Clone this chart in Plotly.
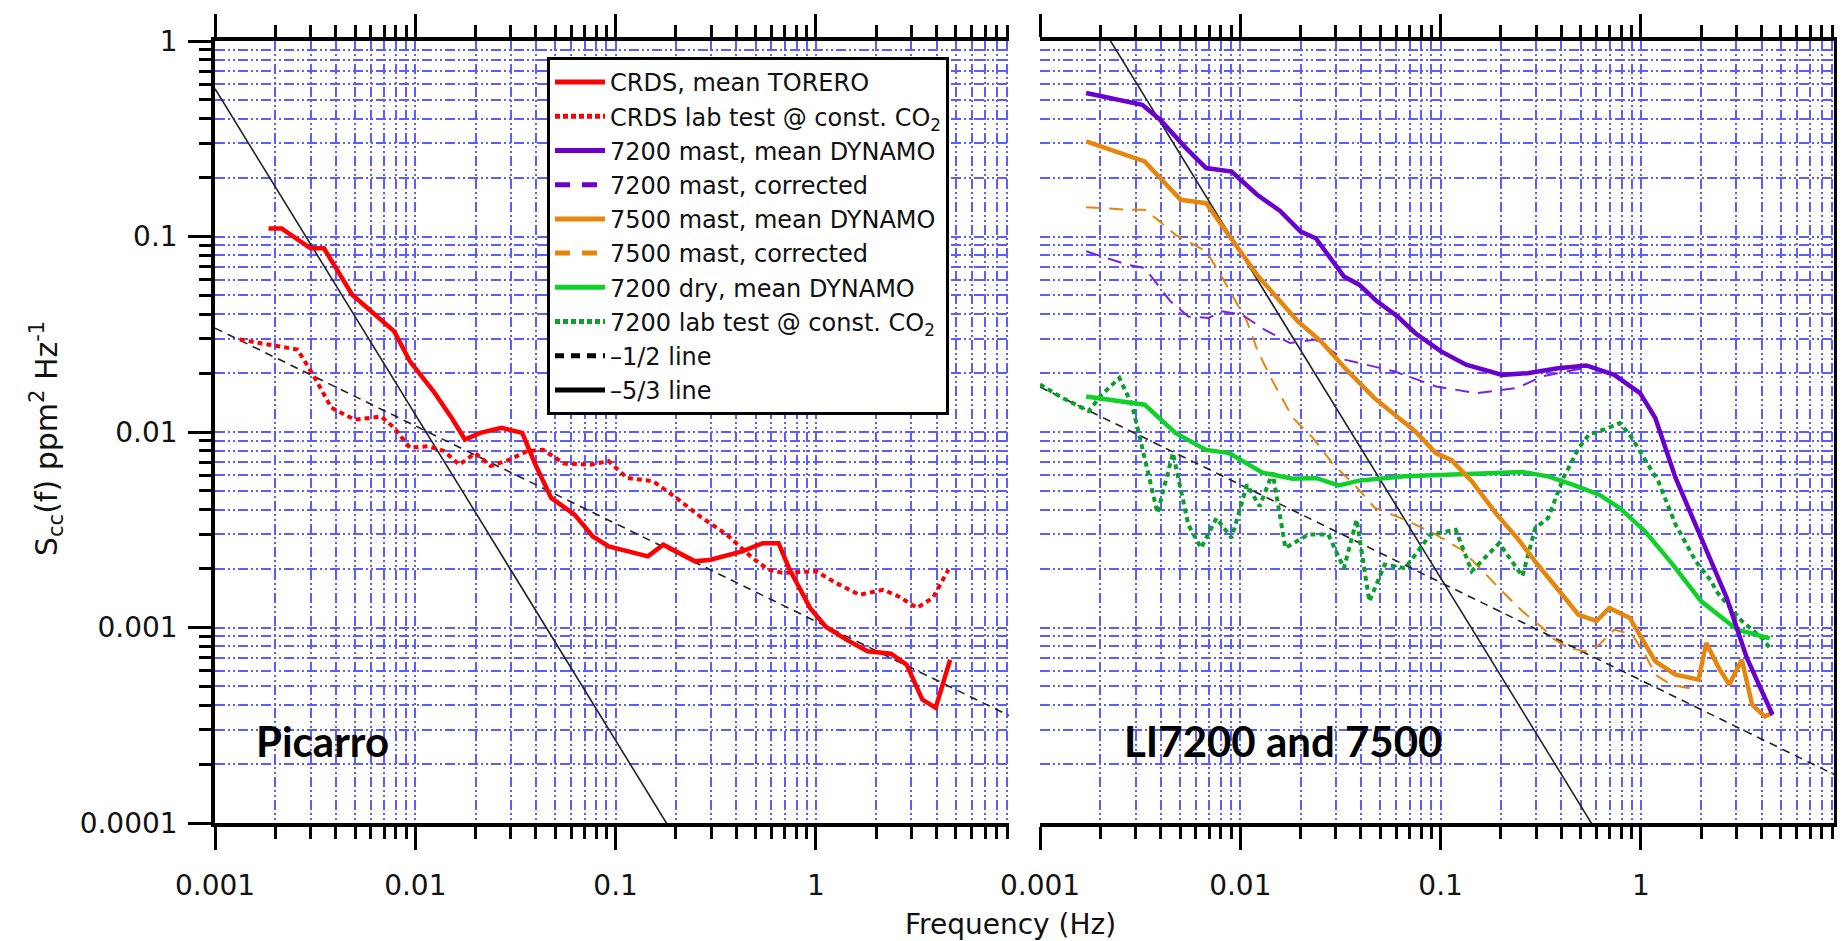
import plotly.graph_objects as go
import numpy as np

# ---------------- data ----------------
crds_f = [0.00185, 0.00215, 0.0030, 0.0035, 0.00484, 0.00675, 0.00785, 0.0094, 0.0123, 0.0152,
          0.0177, 0.0211, 0.0269, 0.0342, 0.0398, 0.0477, 0.0624, 0.077, 0.0923, 0.145, 0.173,
          0.249, 0.298, 0.428, 0.543, 0.651, 0.734, 0.935, 1.12, 1.42, 1.81, 2.37, 2.84, 3.40,
          3.96, 4.68]
crds_s = [0.110, 0.110, 0.087, 0.087, 0.0504, 0.0376, 0.0327, 0.023, 0.0162, 0.0118,
          0.00915, 0.0099, 0.0105, 0.0099, 0.0068, 0.0046, 0.00378, 0.00292, 0.0026, 0.00231,
          0.00265, 0.00218, 0.00222, 0.00245, 0.0027, 0.0027, 0.00201, 0.00126, 0.00101,
          0.000867, 0.000756, 0.000735, 0.000645, 0.000428, 0.000388, 0.000684]

crdslab_f = [0.00133, 0.00191, 0.00258, 0.00309, 0.00381, 0.00499, 0.00675, 0.00785, 0.0094,
             0.0116, 0.0139, 0.0166, 0.0199, 0.0238, 0.0294, 0.0363, 0.0435, 0.0553, 0.0748,
             0.0923, 0.114, 0.154, 0.201, 0.264, 0.357, 0.482, 0.577, 0.69, 1.0, 1.26, 1.65,
             2.17, 2.59, 3.20, 3.84, 4.59]
crdslab_s = [0.0297, 0.0280, 0.0264, 0.0196, 0.0133, 0.01156, 0.0120, 0.0105, 0.0083, 0.00845,
             0.0080, 0.0068, 0.0078, 0.0067, 0.0072, 0.0080, 0.0081, 0.0069, 0.0068, 0.0071,
             0.00582, 0.0056, 0.0046, 0.0037, 0.0030, 0.00227, 0.00198, 0.0019, 0.00194,
             0.00169, 0.00147, 0.00156, 0.00144, 0.00126, 0.00142, 0.00198]

m7200_f = [0.0017, 0.00324, 0.00398, 0.00534, 0.00675, 0.00905, 0.0121, 0.0158, 0.0200, 0.0238,
           0.0329, 0.0392, 0.0481, 0.0608, 0.0746, 0.100, 0.134, 0.203, 0.272, 0.386, 0.534,
           0.736, 0.99, 1.18, 1.49, 2.0, 2.68, 3.38, 4.54]
m7200_s = [0.542, 0.472, 0.396, 0.284, 0.224, 0.215, 0.164, 0.135, 0.106, 0.098, 0.0625,
           0.0567, 0.0466, 0.0391, 0.0321, 0.0259, 0.0221, 0.0196, 0.0200, 0.0212, 0.0219,
           0.0196, 0.0158, 0.0118, 0.00582, 0.00287, 0.00142, 0.000698, 0.000358]

c7200_f = [0.0017, 0.00272, 0.00333, 0.00448, 0.0055, 0.00695, 0.00805, 0.0102, 0.0132, 0.0177,
           0.0238, 0.0329, 0.059, 0.095, 0.151, 0.241, 0.324, 0.434, 0.55]
c7200_s = [0.084, 0.0718, 0.069, 0.0466, 0.039, 0.0383, 0.0414, 0.0398, 0.0334, 0.0285, 0.0297,
           0.0235, 0.0204, 0.0171, 0.0158, 0.0168, 0.0193, 0.0204, 0.0215]

m7500_f = [0.0017, 0.00333, 0.00398, 0.00504, 0.00675, 0.0088, 0.0121, 0.0153, 0.0194, 0.0253,
           0.0329, 0.0467, 0.0746, 0.0946, 0.113, 0.143, 0.191, 0.241, 0.305, 0.41, 0.488, 0.60,
           0.696, 0.88, 1.02, 1.18, 1.49, 1.94, 2.12, 2.45, 2.76, 3.19, 3.59, 4.15, 4.54]
m7500_s = [0.307, 0.242, 0.199, 0.154, 0.148, 0.100, 0.0638, 0.0485, 0.0368, 0.0291, 0.0215,
           0.0149, 0.0101, 0.0078, 0.0072, 0.0056, 0.00378, 0.00287, 0.0021, 0.00145, 0.00116,
           0.00108, 0.00126, 0.00112, 0.000867, 0.000671, 0.000574, 0.000541, 0.000834,
           0.00062, 0.00051, 0.000684, 0.000403, 0.000351, 0.000365]

c7500_f = [0.0017, 0.0028, 0.00333, 0.00386, 0.00475, 0.00675, 0.0078, 0.00905, 0.0108, 0.0122,
           0.0145, 0.0183, 0.0231, 0.0292, 0.037, 0.0468, 0.0664, 0.0946, 0.127, 0.151, 0.181,
           0.203, 0.256, 0.325, 0.364, 0.435, 0.535, 0.618, 0.737, 0.904, 1.05, 1.18, 1.41,
           1.72, 2.0]
c7500_s = [0.141, 0.137, 0.137, 0.122, 0.102, 0.084, 0.0663, 0.0504, 0.0368, 0.026, 0.0182,
           0.0118, 0.0093, 0.0068, 0.0054, 0.0041, 0.00356, 0.00299, 0.0025, 0.0021, 0.00172,
           0.00153, 0.00121, 0.00099, 0.00088, 0.000785, 0.000755, 0.000817, 0.000975,
           0.000919, 0.000726, 0.000574, 0.00051, 0.00049, 0.00050]

dry_f = [0.0017, 0.00333, 0.00474, 0.00675, 0.0088, 0.0129, 0.0183, 0.0238, 0.031, 0.0392,
         0.0664, 0.106, 0.170, 0.257, 0.344, 0.46, 0.619, 0.78, 1.05, 1.40, 2.0, 3.03, 4.4]
dry_s = [0.0152, 0.0138, 0.0099, 0.0081, 0.0078, 0.0062, 0.00577, 0.00582, 0.00533, 0.00564,
         0.00593, 0.00605, 0.0062, 0.00624, 0.00593, 0.00537, 0.00478, 0.0041, 0.0031,
         0.00218, 0.00136, 0.000975, 0.00088]

lab7200_f = [0.001, 0.0013, 0.00175, 0.00203, 0.00249, 0.00288, 0.00333, 0.00386, 0.00461,
             0.0055, 0.00637, 0.0076, 0.00905, 0.0108, 0.0125, 0.0145, 0.0168, 0.0218, 0.0275,
             0.0329, 0.0381, 0.0441, 0.0526, 0.0664, 0.089, 0.106, 0.119, 0.143, 0.196, 0.256,
             0.297, 0.344, 0.41, 0.49, 0.551, 0.656, 0.783, 0.88, 0.99, 1.22, 1.49, 1.88, 2.25,
             2.38, 3.19, 4.04, 4.4]
lab7200_s = [0.0175, 0.0149, 0.0128, 0.0155, 0.0189, 0.0138, 0.00736, 0.00385, 0.0078, 0.00336,
             0.00255, 0.00363, 0.00287, 0.00538, 0.00417, 0.0062, 0.00255, 0.00299, 0.00299,
             0.00201, 0.00356, 0.00136, 0.0021, 0.00201, 0.00299, 0.0031, 0.00316, 0.00194,
             0.0027, 0.00183, 0.00323, 0.00363, 0.00582, 0.0083, 0.0097, 0.0103, 0.0111,
             0.0097, 0.0080, 0.0056, 0.00336, 0.00218, 0.00172, 0.00153, 0.00108, 0.00088,
             0.000785]

# reference power-law lines: S = amp * (f / f_ref) ** slope
ref_f_span = [0.001, 9.2]
half_left = dict(f_ref=0.001, amp=0.034, slope=-0.5)
half_right = dict(f_ref=0.001, amp=0.017, slope=-0.5)
fivethirds_left = dict(f_ref=0.001, amp=0.57, slope=-5.0 / 3.0)
fivethirds_right = dict(f_ref=0.00225, amp=1.0, slope=-5.0 / 3.0)

x_major = [0.001, 0.01, 0.1, 1]
x_major_text = ["0.001", "0.01", "0.1", "1"]
y_major = [1, 0.1, 0.01, 0.001, 0.0001]
y_major_text = ["1", "0.1", "0.01", "0.001", "0.0001"]

legend_names = [
    "CRDS, mean TORERO",
    "CRDS lab test @ const. CO<sub>2</sub>",
    "7200 mast, mean DYNAMO",
    "7200 mast, corrected",
    "7500 mast, mean DYNAMO",
    "7500 mast, corrected",
    "7200 dry, mean DYNAMO",
    "7200 lab test @ const. CO<sub>2</sub>",
    "\u20131/2 line",
    "\u20135/3 line",
]

# ---------------- styling ----------------
RED = "#ff0000"
PURPLE = "#6a00cc"
ORANGE = "#e6860a"
GREEN = "#10d02a"
DGREEN = "#0aa02a"
GRID = "#5c5cff"
FONT = "DejaVu Sans"

W, H = 1845, 941
ML, MR, MT, MB = 207, 19, 33, 126
PW = W - ML - MR
PH = H - MT - MB


def px_x(x):
    return (x - ML) / PW


def px_y(y):
    return (H - MB - y) / PH


def ref_line(p):
    f = np.array(ref_f_span)
    return f, p["amp"] * (f / p["f_ref"]) ** p["slope"]


fig = go.Figure()


def add(xs, ys, color, width, dash, axis):
    fig.add_trace(go.Scatter(x=xs, y=ys, mode="lines", showlegend=False, hoverinfo="skip",
                             line=dict(color=color, width=width, dash=dash),
                             xaxis="x" if axis == 1 else "x2",
                             yaxis="y" if axis == 1 else "y2"))


# left panel
f, s = ref_line(half_left)
add(f, s, "#222222", 1.6, "8px,6px", 1)
f, s = ref_line(fivethirds_left)
add(f, s, "#222222", 1.6, "solid", 1)
add(crdslab_f, crdslab_s, RED, 4, "5px,4px", 1)
add(crds_f, crds_s, RED, 4.5, "solid", 1)

# right panel
f, s = ref_line(half_right)
add(f, s, "#222222", 1.6, "8px,6px", 2)
f, s = ref_line(fivethirds_right)
add(f, s, "#222222", 1.6, "solid", 2)
add(c7500_f, c7500_s, ORANGE, 2, "14px,9px", 2)
add(c7200_f, c7200_s, "#7a22dd", 2, "14px,9px", 2)
add(lab7200_f, lab7200_s, DGREEN, 4, "5px,4px", 2)
add(dry_f, dry_s, GREEN, 4.5, "solid", 2)
add(m7500_f, m7500_s, ORANGE, 4.5, "solid", 2)
add(m7200_f, m7200_s, PURPLE, 4.5, "solid", 2)

# legend proxies
legend_styles = [
    (RED, "solid"), (RED, "5px,3px"), (PURPLE, "solid"), (PURPLE, "15px,12px"),
    (ORANGE, "solid"), (ORANGE, "15px,12px"), (GREEN, "solid"), (DGREEN, "5px,3px"),
    ("#000000", "9px,7px"), ("#000000", "solid"),
]
for i, (name, (col, dash)) in enumerate(zip(legend_names, legend_styles)):
    fig.add_trace(go.Scatter(x=[None], y=[None], mode="lines", name=name,
                             legendgroup="g%d" % i,
                             line=dict(color=col, width=5, dash=dash),
                             xaxis="x", yaxis="y"))

minor_x = [k * 10.0 ** e for e in range(-3, 1) for k in range(2, 10)]
minor_y = [k * 10.0 ** e for e in range(-4, 0) for k in range(2, 10)]
grid_dash = "10px,3px,2px,3px,2px,3px"

common_x = dict(
    type="log", range=[-3, 0.964], showline=True, linecolor="black", linewidth=3.5,
    tickmode="array", tickvals=x_major, ticktext=x_major_text, ticks="outside",
    ticklen=23, tickwidth=3, tickcolor="black", mirror="ticks",
    showgrid=True, gridcolor=GRID, gridwidth=1.6, griddash=grid_dash,
    tickfont=dict(family=FONT, size=28, color="#111111"), ticklabelstandoff=12,
    minor=dict(tickmode="array", tickvals=minor_x, ticks="outside", ticklen=12,
               tickwidth=2.5, tickcolor="black", showgrid=True, gridcolor=GRID,
               gridwidth=1.6, griddash=grid_dash),
    zeroline=False,
)
common_y = dict(
    type="log", range=[-4, 0], showline=True, linecolor="black", linewidth=3.5,
    tickmode="array", tickvals=y_major, ticktext=y_major_text, ticks="outside",
    ticklen=23, tickwidth=3, tickcolor="black",
    showgrid=True, gridcolor=GRID, gridwidth=1.6, griddash=grid_dash,
    tickfont=dict(family=FONT, size=28, color="#111111"), ticklabelstandoff=5,
    minor=dict(tickmode="array", tickvals=minor_y, ticks="outside", ticklen=12,
               tickwidth=2.5, tickcolor="black", showgrid=True, gridcolor=GRID,
               gridwidth=1.6, griddash=grid_dash),
    zeroline=False,
)

left_end = px_x(1001)
right_start = px_x(1032)

fig.update_layout(
    width=W, height=H,
    margin=dict(l=ML, r=MR, t=MT, b=MB, autoexpand=False),
    paper_bgcolor="white", plot_bgcolor="white",
    xaxis=dict(common_x, domain=[0, left_end], anchor="y"),
    yaxis=dict(common_y, domain=[0, 1], anchor="x", side="left"),
    xaxis2=dict(common_x, domain=[right_start, 1], anchor="y2"),
    yaxis2=dict(common_y, domain=[0, 1], anchor="x2", side="right", showticklabels=False),
    showlegend=True,
    legend=dict(x=px_x(539), y=px_y(49), xanchor="left", yanchor="top",
                bgcolor="white", bordercolor="black", borderwidth=3,
                font=dict(family=FONT, size=24, color="#111111"),
                tracegroupgap=0, itemwidth=50, traceorder="normal"),
    font=dict(family=FONT, color="black"),
    annotations=[
        dict(text="Frequency (Hz)", xref="paper", yref="paper", x=px_x(1002), y=px_y(916),
             xanchor="center", yanchor="middle", showarrow=False,
             font=dict(family=FONT, size=28, color="#111111")),
        dict(text="S<sub>cc</sub>(f) ppm<sup>2</sup> Hz<sup>-1</sup>", xref="paper",
             yref="paper", x=px_x(38), y=px_y(431), xanchor="center", yanchor="middle",
             textangle=-90, showarrow=False,
             font=dict(family=FONT, size=30, color="#111111")),
        dict(text="<b>Picarro</b>", xref="paper", yref="paper", x=px_x(246), y=px_y(733),
             xanchor="left", yanchor="middle", showarrow=False,
             font=dict(family="Lato", size=42, color="black")),
        dict(text="<b>LI7200 and 7500</b>", xref="paper", yref="paper", x=px_x(1114),
             y=px_y(733), xanchor="left", yanchor="middle", showarrow=False,
             font=dict(family="Lato", size=42, color="black")),
    ],
)

fig.write_html("out.html")
